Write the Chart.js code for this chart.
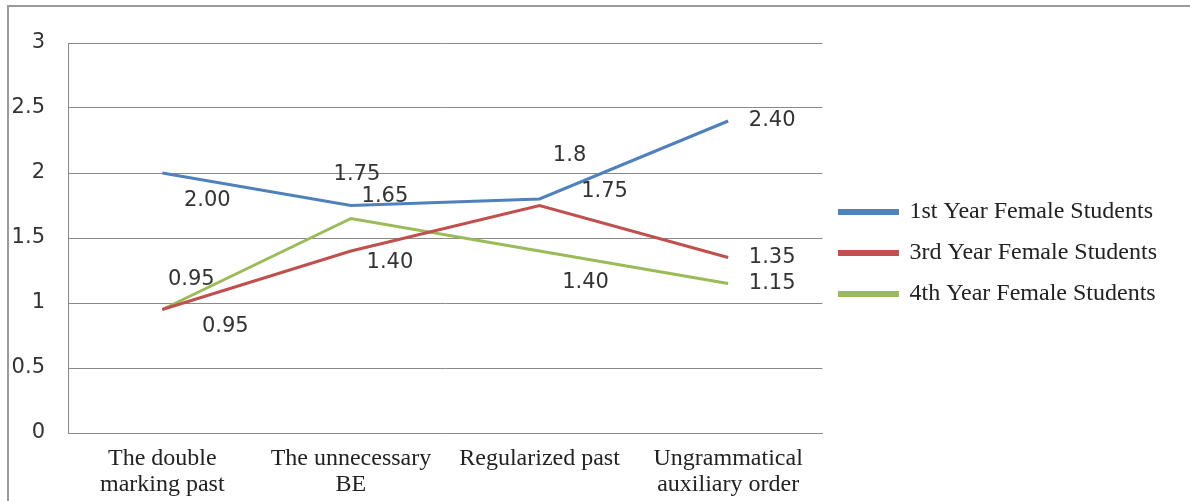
<!DOCTYPE html>
<html>
<head>
<meta charset="utf-8">
<script src="https://cdn.jsdelivr.net/npm/chart.js@4.4.1/dist/chart.umd.min.js"></script>
<style>
  html, body { margin: 0; padding: 0; background: #fff; }
  #wrap { position: relative; width: 1190px; height: 501px; overflow: hidden; }
  #frame { position: absolute; left: 7px; top: 5px; width: 1300px; height: 600px; border: 2px solid #9a9a9a; box-sizing: border-box; }
  #holder { position: absolute; left: 0; top: 0; width: 1190px; height: 501px; }
</style>
</head>
<body>
<div id="wrap">
  <div id="frame"></div>
  <div id="holder"><canvas id="c"></canvas></div>
</div>
<script>
// ---- data ----
const categories = [
  ["The double", "marking past"],
  ["The unnecessary", "BE"],
  ["Regularized past"],
  ["Ungrammatical", "auxiliary order"]
];
const seriesNames = ["1st Year Female Students", "3rd Year Female Students", "4th Year Female Students"];
const firstYear = [2.00, 1.75, 1.8, 2.40];
const thirdYear = [0.95, 1.40, 1.75, 1.35];
const fourthYear = [0.95, 1.65, 1.40, 1.15];
const firstYearLabels = ["2.00", "1.75", "1.8", "2.40"];
const thirdYearLabels = ["0.95", "1.40", "1.75", "1.35"];
const fourthYearLabels = ["0.95", "1.65", "1.40", "1.15"];
const yTickLabels = ["0", "0.5", "1", "1.5", "2", "2.5", "3"];

// ---- label placement (offsets from each point, px) ----
const labelOffsets = [
  [[45, 28], [6, -31], [30, -43], [44, 0]],
  [[63, 17], [39, 12], [65, -14], [44, 0]],
  [[29, -30], [34, -22], [46, 32], [44, 0]]
];
const seriesLabels = [firstYearLabels, thirdYearLabels, fourthYearLabels];
const colors = ["#4F81BD", "#C0504D", "#9BBB59"];

const dataLabelPlugin = {
  id: 'dataLabels',
  afterDatasetsDraw(chart) {
    const ctx = chart.ctx;
    ctx.save();
    ctx.font = '21px "DejaVu Sans"';
    ctx.fillStyle = '#333333';
    ctx.textAlign = 'center';
    ctx.textBaseline = 'middle';
    chart.data.datasets.forEach((ds, di) => {
      const meta = chart.getDatasetMeta(di);
      meta.data.forEach((pt, i) => {
        const off = labelOffsets[di][i];
        ctx.fillText(seriesLabels[di][i], pt.x + off[0], pt.y + off[1]);
      });
    });
    ctx.restore();
  }
};

new Chart(document.getElementById('c'), {
  type: 'line',
  data: {
    labels: categories,
    datasets: [firstYear, thirdYear, fourthYear].map((d, i) => ({
      label: seriesNames[i],
      data: d,
      borderColor: colors[i],
      backgroundColor: colors[i],
      borderWidth: 3,
      pointRadius: 0,
      tension: 0,
      fill: false
    }))
  },
  options: {
    responsive: true,
    maintainAspectRatio: false,
    animation: false,
    events: [],
    layout: { padding: { left: 12, right: 23, top: 5, bottom: 0 } },
    plugins: {
      title: { display: true, text: '', font: { size: 10, lineHeight: 1 }, padding: { top: 28, bottom: 0 } },
      tooltip: { enabled: false },
      legend: {
        position: 'right',
        align: 'center',
        maxWidth: 500,
        labels: {
          boxWidth: 58,
          boxHeight: 3,
          padding: 17,
          color: '#222222',
          font: { family: '"Liberation Serif", "Times New Roman", serif', size: 24 }
        }
      }
    },
    scales: {
      x: {
        offset: true,
        grid: { display: false, drawTicks: false },
        border: { display: true, color: '#8a8a8a', width: 1 },
        afterFit: (s) => { s.paddingLeft = 0; s.paddingRight = 0; s.height = 68; },
        ticks: {
          maxRotation: 0,
          autoSkip: false,
          padding: 13,
          color: '#222222',
          font: { family: '"Liberation Serif", "Times New Roman", serif', size: 24, lineHeight: 1.08 }
        }
      },
      y: {
        min: 0,
        max: 3,
        grid: { color: '#8a8a8a', lineWidth: 1, drawTicks: false },
        border: { display: true, color: '#8a8a8a', width: 1 },
        afterFit: (s) => { s.width = 56; },
        ticks: {
          stepSize: 0.5,
          padding: 23,
          color: '#333333',
          font: { family: '"DejaVu Sans", sans-serif', size: 21 },
          callback: (v, i) => yTickLabels[i]
        }
      }
    }
  },
  plugins: [dataLabelPlugin]
});
</script>
</body>
</html>
